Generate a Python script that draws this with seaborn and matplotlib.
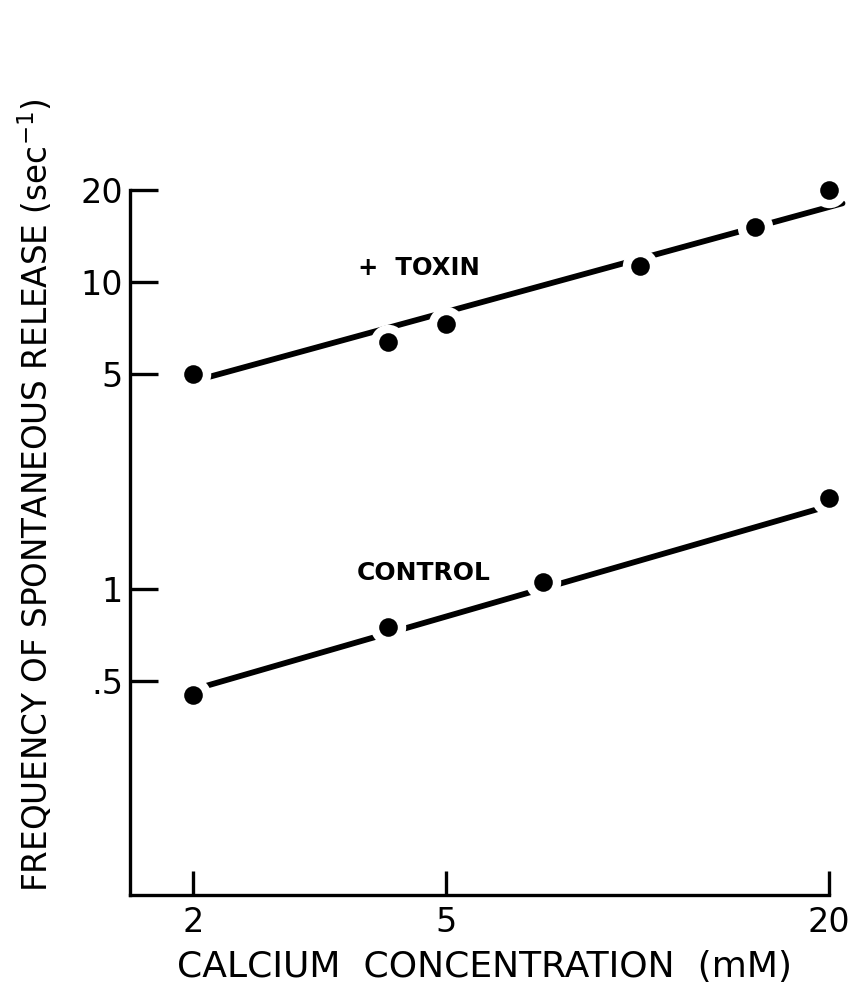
import matplotlib
matplotlib.use("Agg")
import matplotlib.pyplot as plt
import seaborn as sns
import numpy as np
import pandas as pd
from matplotlib.ticker import FixedLocator, NullLocator, FixedFormatter

# ---- data ----
toxin_x = [2.0, 4.05, 5.0, 10.1, 15.3, 20.0]
toxin_y = [5.0, 6.4, 7.3, 11.3, 15.1, 20.0]
control_x = [2.0, 4.05, 7.1, 20.0]
control_y = [0.45, 0.75, 1.05, 1.98]
# fitted regression lines (end points)
toxin_fit_x = [2.11, 21.0]
toxin_fit_y = [4.9, 18.1]
control_fit_x = [2.07, 19.6]
control_fit_y = [0.478, 1.84]

x_ticks = [2, 5, 20]
x_ticklabels = ["2", "5", "20"]
y_ticks = [0.5, 1, 5, 10, 20]
y_ticklabels = [".5", "1", "5", "10", "20"]

sns.set_style("white")
plt.rcParams['font.family'] = ['DejaVu Sans']
plt.rcParams['text.color'] = 'black'

fig = plt.figure(figsize=(8.53, 10.08), dpi=100)
ax = fig.add_axes([0.1524, 0.1121, 0.8195, 0.6994])

ax.set_xscale("log")
ax.set_yscale("log")
ax.set_xlim(1.59, 20.0)
ax.set_ylim(0.1, 20.0)

pts = pd.DataFrame({
    "x": toxin_x + control_x,
    "y": toxin_y + control_y,
})
fits = [
    pd.DataFrame({"x": toxin_fit_x, "y": toxin_fit_y}),
    pd.DataFrame({"x": control_fit_x, "y": control_fit_y}),
]
for f in fits:
    sns.lineplot(data=f, x="x", y="y", ax=ax, color="black", lw=4.2,
                 solid_capstyle="round", clip_on=False, zorder=2)

# white halo, then black dot (gap in the line around each point)
sns.scatterplot(data=pts, x="x", y="y", ax=ax, color="white", s=650,
                linewidth=0, zorder=3, clip_on=False)
sns.scatterplot(data=pts, x="x", y="y", ax=ax, color="black", s=180,
                linewidth=0, zorder=4, clip_on=False)

for side in ["top", "right"]:
    ax.spines[side].set_visible(False)
for side in ["left", "bottom"]:
    ax.spines[side].set_linewidth(2.4)
    ax.spines[side].set_color("black")

ax.xaxis.set_major_locator(FixedLocator(x_ticks))
ax.xaxis.set_major_formatter(FixedFormatter(x_ticklabels))
ax.xaxis.set_minor_locator(NullLocator())
ax.yaxis.set_major_locator(FixedLocator(y_ticks))
ax.yaxis.set_major_formatter(FixedFormatter(y_ticklabels))
ax.yaxis.set_minor_locator(NullLocator())

ax.tick_params(axis="both", which="major", direction="in", width=2.4,
               colors="black", labelcolor="black", labelsize=24,
               bottom=True, left=True)
ax.tick_params(axis="y", length=20, pad=5)
ax.tick_params(axis="x", length=17, pad=8)

ax.set_xlabel("")
ax.set_ylabel("")
fig.text(485 / 853, 1 - 967 / 1008, "CALCIUM  CONCENTRATION  (mM)",
         fontsize=26, color="black", ha="center", va="center")
fig.text(36 / 853, 1 - 495 / 1008,
         "FREQUENCY OF SPONTANEOUS RELEASE (sec$^{-1}$)",
         fontsize=23.5, color="black", ha="center", va="center", rotation=90)

ax.text(0.326, 0.889, "+  TOXIN", transform=ax.transAxes, fontsize=17.5,
        fontweight="bold", color="black", ha="left", va="center")
ax.text(0.325, 0.457, "CONTROL", transform=ax.transAxes, fontsize=18,
        fontweight="bold", color="black", ha="left", va="center")

ax.grid(False)
fig.savefig("out.png", dpi=100)
